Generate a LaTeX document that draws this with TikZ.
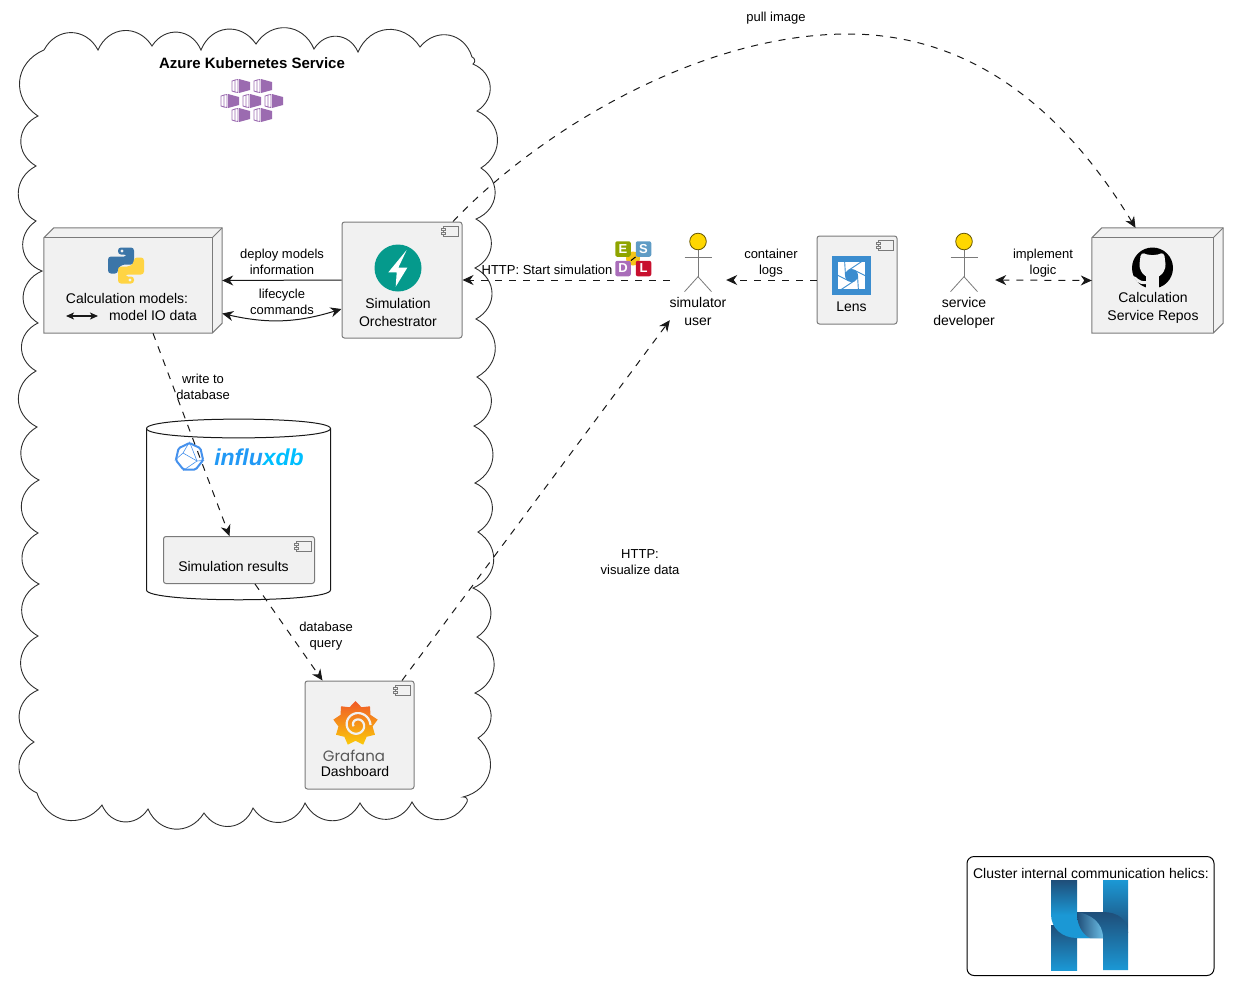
\documentclass[tikz,border=0pt]{standalone}
\usepackage{fontspec}
\usepackage{xcolor}
\setmainfont{Liberation Sans}
\newfontfamily\grafanafont{Poppins}
\usetikzlibrary{arrows.meta, shapes.geometric}

\definecolor{boxgray}{HTML}{F1F1F1}
\definecolor{linegray}{HTML}{7A7A7A}
\definecolor{inkdark}{HTML}{181818}
\definecolor{actorgold}{HTML}{FFD700}
\definecolor{akspurple}{HTML}{9B6BB0}
\definecolor{pyblue}{HTML}{3B75A8}
\definecolor{pyyellow}{HTML}{FFD443}
\definecolor{fastteal}{HTML}{059A8C}
\definecolor{lensblue}{HTML}{3B8DCF}
\definecolor{influxblue}{HTML}{4591ED}
\definecolor{influxa}{HTML}{2299F5}
\definecolor{influxb}{HTML}{00BFFF}
\definecolor{helixlight}{HTML}{1B98D5}
\definecolor{helixdark}{HTML}{1F4E79}
\definecolor{esdlolive}{HTML}{8FA400}
\definecolor{esdlblue}{HTML}{5F9CC5}
\definecolor{esdlpurple}{HTML}{A96DB9}
\definecolor{esdlred}{HTML}{C8102E}
\definecolor{esdlyellow}{HTML}{F5C518}
\definecolor{grafred}{HTML}{F05A28}
\definecolor{grafyellow}{HTML}{FBCA0A}

\tikzset{
    boxline/.style={draw=linegray, line width=1pt},
    compbox/.style={boxline, fill=boxgray, rounded corners=2.5pt, inner sep=0pt},
    cubebox/.style={inner sep=0pt},
    actorbox/.style={inner sep=0pt, minimum height=80pt},
    boxtext/.style={inner sep=0pt, align=center, font=\fontsize{14}{18}\selectfont},
    edgelabel/.style={inner sep=0pt, align=center, font=\fontsize{13}{16}\selectfont},
    solidflow/.style={draw=inkdark, line width=1pt},
    dashflow/.style={solidflow, dash pattern=on 7pt off 7pt},
    headend/.style={-{Stealth[length=11pt, width=10pt, inset=3.5pt]}},
    headboth/.style={{Stealth[length=11pt, width=10pt, inset=3.5pt]}-{Stealth[length=11pt, width=10pt, inset=3.5pt]}},
    esdlbox/.style={rounded corners=2pt, minimum size=15.5pt, inner sep=0pt, text=white, font=\fontsize{13}{13}\selectfont\bfseries},
}

% Small component mark in the upper right corner of a box
\newcommand{\compmark}[1]{
    \begin{scope}[shift={(#1.north east)}]
        \draw[boxline, fill=boxgray] (-19,5) rectangle (-4,15);
        \draw[boxline, fill=boxgray] (-21,7) rectangle (-17,9);
        \draw[boxline, fill=boxgray] (-21,11) rectangle (-17,13);
    \end{scope}
}

% Box with depth, drawn inside the bounds of its node
\newcommand{\cubefaces}[1]{
    \draw[boxline, fill=boxgray] (#1.south west) -- ([yshift=-10pt]#1.north west) -- ([xshift=10pt]#1.north west)
        -- (#1.north east) -- ([yshift=10pt]#1.south east) -- ([xshift=-10pt]#1.south east) -- cycle;
    \draw[boxline] ([yshift=-10pt]#1.north west) -- ([shift={(-10pt,-10pt)}]#1.north east) -- ([xshift=-10pt]#1.south east);
    \draw[boxline] ([shift={(-10pt,-10pt)}]#1.north east) -- (#1.north east);
}

% Stick figure around the centre of an actor node
\newcommand{\actorfig}[1]{
    \begin{scope}[shift={(#1.center)}]
        \draw[line width=0.8pt, draw=linegray] (-13.5,-23) -- (13.5,-23);
        \draw[line width=0.8pt, draw=linegray] (0,-30) -- (0,-3.3);
        \draw[line width=0.8pt, draw=linegray] (-13.5,11.7) -- (0,-3.3) -- (13.5,11.7);
        \draw[line width=0.8pt, draw=black!60!actorgold, fill=actorgold] (0,-38.5) circle (8.3pt);
    \end{scope}
}

\begin{document}
\begin{tikzpicture}[x=1pt, y=-1pt]
    \useasboundingbox (0,0) rectangle (1239,994);

    % Cloud of the cluster
    \draw[draw=inkdark!90, line width=0.9pt] (44,50)
        \foreach \px/\py in {98/50, 152/46, 201/50, 256/44, 314/49, 358/52, 420/47, 472/57, 473/64,
            477/111, 481/168, 476/219, 475/268, 476/319, 477/377, 474/426, 475/483, 478/532, 473/588, 477/637, 475/693, 478/738,
            463/797, 467/802, 412/802, 360/803, 305/803, 253/808, 204/813, 148/809, 102/805,
            37/793, 34/742, 38/690, 38/636, 39/584, 38/533, 39/480, 37/427, 36/371, 38/323, 42/271, 36/221, 36/166, 38/116, 44/50} {
            to[bend left=62, looseness=1.25] (\px,\py)
        };

    \node[inner sep=0pt, font=\fontsize{15}{16}\selectfont\bfseries] (akstitle) at (252,63) {Azure Kubernetes Service};

    % Pods of the cluster mark
    \foreach \ix/\iy in {232/79, 254/79, 221/94, 243/94, 265/94, 232/108, 254/108} {
        \begin{scope}[shift={(\ix,\iy)}]
            \draw[draw=akspurple, line width=0.8pt] (0,2) -- (3,1) -- (3,13) -- (0,12) -- cycle;
            \draw[draw=akspurple, line width=0.8pt] (3,1) -- (6,0.5) -- (6,13.5) -- (3,13);
            \fill[akspurple] (7,0) -- (18,3) -- (18,11) -- (7,14) -- cycle;
        \end{scope}
    }

    % Database
    \draw[draw=inkdark, line width=1pt, fill=white] (146.5,428.5) .. controls (146.5,416) and (330.5,416) .. (330.5,428.5)
        -- (330.5,590) .. controls (330.5,603) and (146.5,603) .. (146.5,590) -- cycle;
    \draw[draw=inkdark, line width=1pt] (146.5,428.5) .. controls (146.5,441) and (330.5,441) .. (330.5,428.5);

    \node[regular polygon, regular polygon sides=7, draw=influxblue, line width=2pt, minimum size=28pt, inner sep=0pt, rounded corners=1.5pt] (influxicon) at (189.5,457) {};
    \draw[draw=influxblue, line width=0.6pt] (influxicon.corner 1) -- (183,453) -- (influxicon.corner 3);
    \draw[draw=influxblue, line width=0.6pt] (183,453) -- (197,461) -- (influxicon.corner 6);
    \draw[draw=influxblue, line width=0.6pt] (influxicon.corner 1) -- (197,461) -- (influxicon.corner 4);
    \node[inner sep=0pt, font=\fontsize{23}{23}\selectfont\bfseries\itshape] (influxword) at (259,457) {{\color{influxa}influ}{\color{influxb}xdb}};

    % Calculation models
    \node[cubebox, minimum width=178pt, minimum height=105pt] (calc) at (133,280.5) {};
    \cubefaces{calc}
    \begin{scope}[shift={(126,265.5)}]
        \foreach \rot/\col in {0/pyblue, 180/pyyellow} {
            \begin{scope}[rotate=\rot]
                \fill[\col, rounded corners=3pt] (-8,-18) -- (8,-18) -- (8,-1) -- (-4,-1) -- (-8,3) -- (-8,8) -- (-18,8) -- (-18,-9) -- (1,-9) -- (1,-11) -- (-8,-11) -- cycle;
                \fill[boxgray] (-4,-14.5) circle (1.7pt);
            \end{scope}
        }
    \end{scope}
    \node[boxtext] (calctitle) at (127,298) {Calculation models:};
    \node[boxtext] (calcio) at (153,315.5) {model IO data};
    \coordinate (iostart) at (66,316);
    \coordinate (ioend) at (98,316);
    \draw[draw=inkdark, line width=1.3pt, {Stealth[length=8pt, width=7pt, inset=2pt]}-{Stealth[length=8pt, width=7pt, inset=2pt]}] (iostart) -- (ioend);

    % Simulation orchestrator
    \node[compbox, minimum width=120pt, minimum height=116pt] (orch) at (402,280) {};
    \compmark{orch}
    \node[circle, fill=fastteal, minimum size=47pt, inner sep=0pt] (fastlogo) at (398,268) {};
    \fill[white] (406.7,250) -- (388.3,272.3) -- (396.7,272.3) -- (395.7,286.7) -- (407.3,267.7) -- (398.3,267.7) -- cycle;
    \node[boxtext] (orchtext) at (398,312) {Simulation\\Orchestrator};

    % Simulation results
    \node[compbox, minimum width=151pt, minimum height=47pt] (simres) at (239,560) {};
    \compmark{simres}
    \node[boxtext] (simtext) at (233.5,566) {Simulation results};

    % Grafana
    \node[compbox, minimum width=109pt, minimum height=108pt] (graf) at (359.5,735) {};
    \compmark{graf}
    \node[star, star points=9, star point ratio=1.3, minimum size=45pt, inner sep=0pt, top color=grafred, bottom color=grafyellow] (grafgear) at (355.5,723.5) {};
    \draw[draw=boxgray, line width=2.2pt, domain=0:560, samples=70, smooth] plot ({357+(13.5-\x/56)*cos(\x)},{725-(13.5-\x/56)*sin(\x)});
    \node[inner sep=0pt, text=black!65, font=\fontsize{15}{15}\selectfont\grafanafont] (grafword) at (354,755.5) {Grafana};
    \node[boxtext] (graftext) at (355,771) {Dashboard};

    % Simulator user
    \node[actorbox, minimum width=56pt] (user) at (698,280) {};
    \actorfig{user}
    \node[boxtext] (usertext) at (698,311) {simulator\\user};

    % Lens
    \node[compbox, minimum width=80pt, minimum height=88pt] (lens) at (857,280) {};
    \compmark{lens}
    \fill[lensblue] (832,256) rectangle (871,295);
    \begin{scope}
        \clip (838,262) rectangle (865,289);
        \fill[white] (838,262) rectangle (865,289);
        \foreach \blade in {0,60,...,300} {
            \draw[draw=lensblue, line width=0.9pt, shift={(851.5,275.5)}] (\blade:6) -- (\blade+72:24);
        }
        \fill[lensblue] (851.5,275.5) circle (6.5pt);
    \end{scope}
    \node[boxtext] (lenstext) at (851.5,306.5) {Lens};

    % Service developer
    \node[actorbox, minimum width=62pt] (dev) at (964,280) {};
    \actorfig{dev}
    \node[boxtext] (devtext) at (964,313) {service\\developer};

    % Calculation service repos
    \node[cubebox, minimum width=131pt, minimum height=105pt] (repos) at (1157.5,280.5) {};
    \cubefaces{repos}
    \fill[black] (1152.5,268) circle (20.5pt);
    \fill[boxgray, rounded corners=4pt] (1140,260) -- (1141,252) -- (1147,255) -- (1158,255) -- (1164,252) -- (1165,260) -- (1166,268) -- (1160,277) -- (1145,277) -- (1139,268) -- cycle;
    \fill[boxgray] (1146,274) rectangle (1159,290);
    \fill[boxgray] (1133,276) .. controls (1137,276) and (1138,282) .. (1146,281) -- (1146,284) .. controls (1138,285) and (1135,280) .. (1133,276) -- cycle;
    \node[boxtext] (repostext) at (1153,308) {Calculation\\Service Repos};

    % ESDL mark
    \fill[esdlyellow] (633,258.5) circle (7pt);
    \node[esdlbox, fill=esdlolive] (esdle) at (623,249) {E};
    \node[esdlbox, fill=esdlblue] (esdls) at (643.5,249) {S};
    \node[esdlbox, fill=esdlpurple] (esdld) at (623,268.5) {D};
    \node[esdlbox, fill=esdlred] (esdll) at (643.5,268.5) {L};
    \draw[black, line width=1pt] (esdld.north east) -- (esdls.south west);

    % Arrows inside the cluster
    \draw[solidflow, headend] (orch.west) -- (calc.east);
    \draw[solidflow, headboth] ([yshift=-33pt]calc.east) to[bend right=15] ([yshift=-29pt]orch.west);
    \draw[dashflow, headend] ([xshift=20pt]calc.south) -- ([xshift=-9.5pt]simres.north);
    \draw[dashflow, headend] ([xshift=16pt]simres.south) -- ([xshift=-37pt]graf.north);

    % Arrows from and to the outside
    \draw[dashflow, headend] (user.west) -- (orch.east);
    \draw[dashflow, headend] (lens.west) -- (user.east);
    \draw[dashflow, headboth] (dev.east) -- (repos.west);
    \draw[dashflow, headend] ([xshift=42.5pt]graf.north) -- (user.south west);
    \coordinate (pullmid) at (848,34);
    \draw[dashflow, headend] ([xshift=51pt]orch.north) .. controls (540,130) and (700,34) .. (pullmid)
        .. controls (980,34) and (1070,120) .. ([xshift=-22pt]repos.north);

    % Arrow labels
    \node[edgelabel] (deploylabel) at (282,262) {deploy models\\information};
    \node[edgelabel] (lifelabel) at (282,302) {lifecycle\\commands};
    \node[edgelabel] (writelabel) at (203,387) {write to\\database};
    \node[edgelabel] (querylabel) at (326,636.5) {database\\query};
    \node[edgelabel] (startlabel) at (547,269.5) {HTTP: Start simulation};
    \node[edgelabel] (logslabel) at (771,263) {container\\logs};
    \node[edgelabel] (logiclabel) at (1043,263) {implement\\logic};
    \node[edgelabel] (pulllabel) at (776,18) {pull image};
    \node[edgelabel] (visuallabel) at (640,562) {HTTP:\\visualize data};

    % Legend
    \node[draw=black, line width=1pt, rounded corners=7pt, fill=white, minimum width=247pt, minimum height=119pt, inner sep=0pt] (legend) at (1090.5,916) {};
    \node[boxtext] (legendtext) at (1091,873) {Cluster internal communication helics:};
    \shade[top color=helixdark, bottom color=helixlight] (1051,925) rectangle (1077,970);
    \shade[top color=helixlight, bottom color=helixdark] (1103,880) rectangle (1128,932);
    \shade[top color=helixdark, bottom color=helixlight] (1077,912) -- (1103,912) .. controls (1118,912) and (1128,920) .. (1128,932) -- (1128,970) -- (1103,970) -- (1103,938) -- (1077,938) -- cycle;
    \shade[top color=helixdark, bottom color=helixlight] (1051,880) rectangle (1077,915);
    \fill[helixlight] (1051,914.5) -- (1077,914.5) .. controls (1077,928) and (1087,938) .. (1103,938) -- (1077,938) .. controls (1062,938) and (1051,928) .. (1051,914.5) -- cycle;
    \shade[left color=helixdark, right color=helixlight!65!white] (1077,912) .. controls (1090,914) and (1103,922) .. (1103,938) -- (1090,938) .. controls (1082,934) and (1077,925) .. (1077,912) -- cycle;
\end{tikzpicture}
\end{document}
